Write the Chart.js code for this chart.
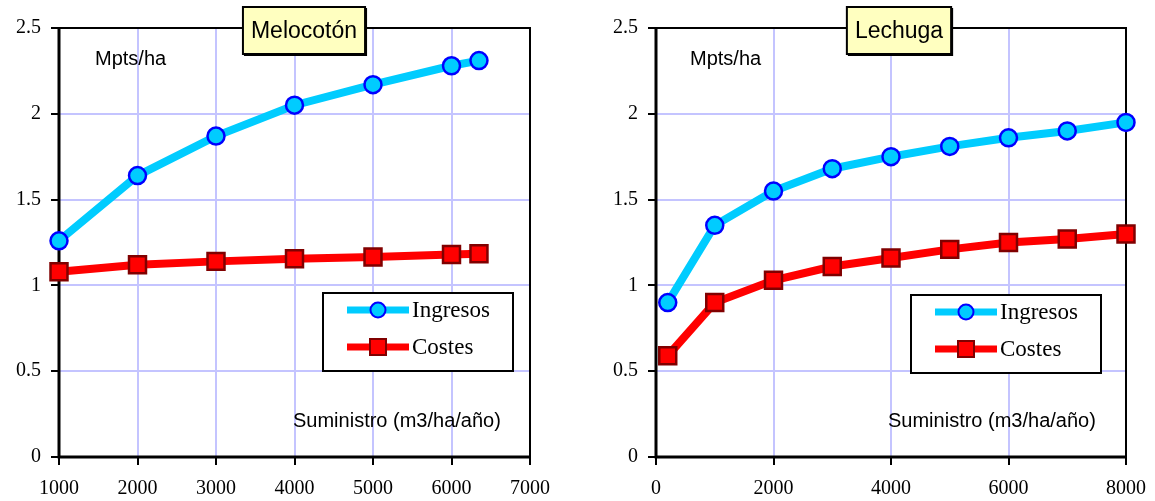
<!DOCTYPE html>
<html>
<head>
<meta charset="utf-8">
<script src="https://cdn.jsdelivr.net/npm/chart.js@4"></script>
<style>
  html, body { margin: 0; padding: 0; background: #fff; }
  #wrap { position: relative; width: 1155px; height: 501px; }
  .box { position: absolute; top: 0; height: 501px; }
  #left { left: 0; width: 578px; }
  #right { left: 578px; width: 577px; }
</style>
</head>
<body>
<div id="wrap">
  <div class="box" id="left"><canvas id="chartLeft"></canvas></div>
  <div class="box" id="right"><canvas id="chartRight"></canvas></div>
</div>
<script>
// Melocotón
const peachSupply = [1000, 2000, 3000, 4000, 5000, 6000, 6350];
const peachIncome = [1.26, 1.64, 1.87, 2.05, 2.17, 2.28, 2.31];
const peachCost = [1.08, 1.12, 1.14, 1.155, 1.165, 1.18, 1.185];

// Lechuga
const lettuceSupply = [200, 1000, 2000, 3000, 4000, 5000, 6000, 7000, 8000];
const lettuceIncome = [0.9, 1.35, 1.55, 1.68, 1.75, 1.81, 1.86, 1.9, 1.95];
const lettuceCost = [0.59, 0.9, 1.03, 1.11, 1.16, 1.21, 1.25, 1.27, 1.3];

const SERIES_NAMES = ['Ingresos', 'Costes'];
const UNIT_LABEL = 'Mpts/ha';
const SUPPLY_LABEL = 'Suministro (m3/ha/año)';

const SANS = '"Liberation Sans", Arial, sans-serif';
const SERIF = '"Liberation Serif", "Times New Roman", serif';
const GRID = '#c4c4ff';

function toPoints(xs, ys) {
  return xs.map((x, i) => ({x, y: ys[i]}));
}

function incomeDataset(xs, ys) {
  return {
    label: SERIES_NAMES[0],
    data: toPoints(xs, ys),
    borderColor: '#00ccff',
    borderWidth: 8,
    pointStyle: 'circle',
    pointRadius: 8.5,
    pointBorderWidth: 2.5,
    pointBackgroundColor: '#00ccff',
    pointBorderColor: '#0000ff',
    tension: 0,
    clip: false
  };
}

function costDataset(xs, ys) {
  return {
    label: SERIES_NAMES[1],
    data: toPoints(xs, ys),
    borderColor: '#ff0000',
    borderWidth: 8,
    pointStyle: 'rect',
    pointRadius: 12,
    pointBorderWidth: 2.5,
    pointBackgroundColor: '#ff0000',
    pointBorderColor: '#800000',
    tension: 0,
    clip: false
  };
}

// frame, in-plot texts, title box and legend
function decorPlugin(cfg) {
  return {
    id: 'decor',
    beforeDatasetsDraw(chart) {
      const {ctx, chartArea: a} = chart;
      ctx.save();
      ctx.strokeStyle = '#000';
      ctx.lineWidth = 2;
      ctx.beginPath();
      ctx.moveTo(a.left, a.top);
      ctx.lineTo(a.right, a.top);
      ctx.lineTo(a.right, a.bottom);
      ctx.stroke();
      ctx.lineWidth = 3;
      ctx.beginPath();
      ctx.moveTo(a.left, a.top - 1);
      ctx.lineTo(a.left, a.bottom);
      ctx.lineTo(a.right + 1, a.bottom);
      ctx.stroke();
      ctx.restore();
    },
    afterDatasetsDraw(chart) {
      const ctx = chart.ctx;
      ctx.save();
      ctx.fillStyle = '#000';
      ctx.textAlign = 'left';
      ctx.textBaseline = 'alphabetic';
      ctx.font = '20px ' + SANS;
      ctx.fillText(UNIT_LABEL, cfg.unitX, 65);
      ctx.fillText(SUPPLY_LABEL, cfg.supplyX, 427);

      // title box
      ctx.font = '23px ' + SANS;
      const tw = ctx.measureText(cfg.title).width;
      const bw = tw + 16, bh = 47;
      const bx = cfg.titleX - bw / 2, by = 7;
      ctx.fillStyle = '#000';
      ctx.fillRect(bx + 1, by + 1, bw + 1, bh + 1);
      ctx.fillStyle = '#ffffc0';
      ctx.fillRect(bx, by, bw, bh);
      ctx.strokeStyle = '#000';
      ctx.lineWidth = 2;
      ctx.strokeRect(bx, by, bw, bh);
      ctx.fillStyle = '#000';
      ctx.textAlign = 'center';
      ctx.textBaseline = 'middle';
      ctx.fillText(cfg.title, cfg.titleX, by + bh / 2 + 1);

      // legend
      const L = cfg.legend;
      ctx.fillStyle = '#fff';
      ctx.fillRect(L.x, L.y, L.w, L.h);
      ctx.strokeStyle = '#000';
      ctx.lineWidth = 2;
      ctx.strokeRect(L.x, L.y, L.w, L.h);
      ctx.font = '23px ' + SERIF;
      ctx.textAlign = 'left';
      chart.data.datasets.forEach((ds, i) => {
        const cy = L.y + 17 + i * 37;
        ctx.strokeStyle = ds.borderColor;
        ctx.lineWidth = 7;
        ctx.beginPath();
        ctx.moveTo(L.x + 24, cy);
        ctx.lineTo(L.x + 86, cy);
        ctx.stroke();
        const mx = L.x + 55;
        ctx.fillStyle = ds.pointBackgroundColor;
        ctx.strokeStyle = ds.pointBorderColor;
        ctx.lineWidth = 2;
        ctx.beginPath();
        if (ds.pointStyle === 'rect') {
          ctx.rect(mx - 8, cy - 8, 16, 16);
        } else {
          ctx.arc(mx, cy, 7.5, 0, Math.PI * 2);
        }
        ctx.fill();
        ctx.stroke();
        ctx.fillStyle = '#000';
        ctx.textBaseline = 'middle';
        ctx.fillText(ds.label, L.x + 89, cy + 1);
      });
      ctx.restore();
    }
  };
}

function makeChart(id, xs, income, cost, cfg) {
  return new Chart(document.getElementById(id), {
    type: 'line',
    data: {
      datasets: [incomeDataset(xs, income), costDataset(xs, cost)]
    },
    options: {
      responsive: true,
      maintainAspectRatio: false,
      animation: false,
      layout: { padding: { top: 28, right: cfg.padRight, left: 0, bottom: 0 } },
      plugins: {
        legend: { display: false },
        tooltip: { enabled: false }
      },
      scales: {
        x: {
          type: 'linear',
          min: cfg.xMin,
          max: cfg.xMax,
          afterFit: s => {
            s.height = 44;
            s.paddingLeft = 0;
            s.paddingRight = 0;
          },
          ticks: {
            stepSize: cfg.xStep,
            autoSkip: false,
            maxRotation: 0,
            padding: 12,
            color: '#000',
            font: { family: SERIF, size: 20 },
            callback: v => String(v)
          },
          grid: { color: GRID, lineWidth: 2, tickLength: 8, tickColor: '#000', tickWidth: 2 },
          border: { display: false }
        },
        y: {
          min: 0,
          max: 2.5,
          afterFit: s => {
            s.width = cfg.yWidth;
            s.paddingTop = 0;
            s.paddingBottom = 0;
          },
          ticks: {
            stepSize: 0.5,
            padding: 10,
            color: '#000',
            font: { family: SERIF, size: 20 },
            callback: v => String(v)
          },
          grid: { color: GRID, lineWidth: 2, tickLength: 8, tickColor: '#000', tickWidth: 2 },
          border: { display: false }
        }
      }
    },
    plugins: [decorPlugin(cfg)]
  });
}

makeChart('chartLeft', peachSupply, peachIncome, peachCost, {
  title: 'Melocotón',
  titleX: 304,
  xMin: 1000, xMax: 7000, xStep: 1000,
  yWidth: 59, padRight: 48,
  unitX: 95, supplyX: 293,
  legend: { x: 323, y: 293, w: 190, h: 78 }
});

makeChart('chartRight', lettuceSupply, lettuceIncome, lettuceCost, {
  title: 'Lechuga',
  titleX: 321,
  xMin: 0, xMax: 8000, xStep: 2000,
  yWidth: 78, padRight: 29,
  unitX: 112, supplyX: 310,
  legend: { x: 333, y: 295, w: 190, h: 78 }
});
</script>
</body>
</html>
